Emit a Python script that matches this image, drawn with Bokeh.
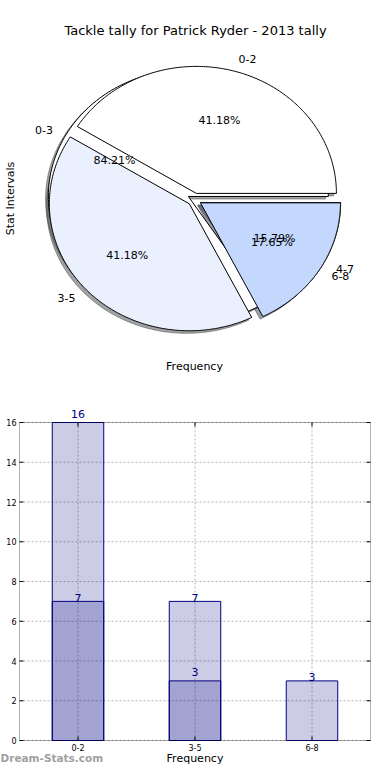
import numpy as np
from bokeh.plotting import figure
from bokeh.models import Range1d, Label, BoxAnnotation
from bokeh.layouts import column
from bokeh.embed import file_html
from bokeh.resources import INLINE

# ---------------- data ----------------
title_text = "Tackle tally for Patrick Ryder - 2013 tally"
pie_back_labels = ["0-3", "4-7"]
pie_back_values = [16, 3]
pie_front_labels = ["0-2", "3-5", "6-8"]
pie_front_values = [7, 7, 3]
bar_categories = ["0-2", "3-5", "6-8"]
bar_a_categories = ["0-2", "3-5"]
bar_a_values = [16, 3]
bar_b_categories = ["0-2", "3-5", "6-8"]
bar_b_values = [7, 7, 3]
y_ticks = [0, 2, 4, 6, 8, 10, 12, 14, 16]
y_max = 16

# ---------------- style ----------------
FONT = "DejaVu Sans"
W = 374
PIE_H = 390
BAR_H = 374
RX, RY = 140.0, 127.0        # pixel radii of the (elliptic) pie
CX, CY = 194.0, 199.0        # pixel centre of the pie (from left, from top)
EXPLODE = 0.05
SHADOW = 0.02
back_colors = ["#FFFFFF", "#EAF0FE"]
front_colors = ["#FFFFFF", "#EAF0FE", "#C4D8FE"]


def bare_figure(height, xr, yr):
    f = figure(width=W, height=height, output_backend="svg", toolbar_location=None,
               x_range=xr, y_range=yr, x_axis_location=None, y_axis_location=None,
               min_border=0, min_border_left=0, min_border_right=0,
               min_border_top=0, min_border_bottom=0, outline_line_color=None)
    f.grid.visible = False
    return f


# ================= pie =================
pie = bare_figure(PIE_H, Range1d(-CX / RX, (W - CX) / RX), Range1d(-(PIE_H - CY) / RY, CY / RY))


def make_wedges(values, colors):
    vals = np.asarray(values, dtype=float)
    frac = vals / vals.sum()
    out = []
    t1 = 0.0
    for f, c in zip(frac, colors):
        t2 = t1 + 360.0 * f
        mid = np.radians((t1 + t2) / 2.0)
        ox, oy = EXPLODE * np.cos(mid), EXPLODE * np.sin(mid)
        th = np.radians(np.linspace(t1, t2, 200))
        xs = np.concatenate([[ox], ox + np.cos(th), [ox]])
        ys = np.concatenate([[oy], oy + np.sin(th), [oy]])
        out.append(dict(xs=xs, ys=ys, ox=ox, oy=oy, mid=mid, frac=f, color=c))
        t1 = t2
    return out


def shade(hexcol):
    h = hexcol.lstrip("#")
    r, g, b = (int(h[i:i + 2], 16) for i in (0, 2, 4))
    return "#%02x%02x%02x" % (int(r * 0.3), int(g * 0.3), int(b * 0.3))


back = make_wedges(pie_back_values, back_colors)
front = make_wedges(pie_front_values, front_colors)

for w in back + front:
    pie.patch(w["xs"] - SHADOW, w["ys"] - SHADOW, fill_color=shade(w["color"]), fill_alpha=0.5,
              line_color=shade(w["color"]), line_alpha=0.5, line_width=1)
for w in back + front:
    pie.patch(w["xs"], w["ys"], fill_color=w["color"], line_color="black", line_width=1)

for wlist, labels in ((back, pie_back_labels), (front, pie_front_labels)):
    for w, lab in zip(wlist, labels):
        xt = w["ox"] + 1.1 * np.cos(w["mid"])
        yt = w["oy"] + 1.1 * np.sin(w["mid"])
        pie.text(x=[xt], y=[yt], text=[lab], text_align="left" if xt > 0 else "right",
                 text_baseline="middle", text_font_size="11px", text_font={"value": FONT},
                 text_color="black")
        xp = w["ox"] + 0.6 * np.cos(w["mid"])
        yp = w["oy"] + 0.6 * np.sin(w["mid"])
        pie.text(x=[xp], y=[yp], text=["%.2f%%" % (100 * w["frac"])], text_align="center",
                 text_baseline="middle", text_font_size="11px", text_font={"value": FONT},
                 text_color="black")

pie.add_layout(Label(x=195, y=PIE_H - 30, x_units="screen", y_units="screen", text=title_text,
                     text_align="center", text_baseline="middle", text_font=FONT,
                     text_font_size="13px", text_color="black"))
pie.add_layout(Label(x=10, y=PIE_H - 198, x_units="screen", y_units="screen", text="Stat Intervals",
                     angle=np.pi / 2, text_align="center", text_baseline="middle", text_font=FONT,
                     text_font_size="11px", text_color="black"))
pie.add_layout(Label(x=194, y=PIE_H - 366, x_units="screen", y_units="screen", text="Frequency",
                     text_align="center", text_baseline="middle", text_font=FONT,
                     text_font_size="11px", text_color="black"))

# ================= bar chart =================
AX_L, AX_R, AX_T, AX_B = 19.0, 370.0, 32.0, 350.0   # axes box in figure pixels
n_cat = len(bar_categories)
ppx = (AX_R - AX_L) / n_cat
ppy = (AX_B - AX_T) / y_max
x0, x1 = -0.5, n_cat - 0.5
bar = bare_figure(BAR_H, Range1d(x0 - AX_L / ppx, x1 + (W - AX_R) / ppx),
                  Range1d(-(BAR_H - AX_B) / ppy, y_max + AX_T / ppy))

idx = {c: i for i, c in enumerate(bar_categories)}
xs_cat = [idx[c] for c in bar_categories]
xs_a = [idx[c] for c in bar_a_categories]
xs_b = [idx[c] for c in bar_b_categories]

# grid
GRID = dict(line_color="#b4b4b4", line_dash="2 2", line_width=1)
bar.segment(x0=[x0] * len(y_ticks), y0=y_ticks, x1=[x1] * len(y_ticks), y1=y_ticks, **GRID)
bar.segment(x0=xs_cat, y0=[0] * n_cat, x1=xs_cat, y1=[y_max] * n_cat, **GRID)

# bars
BW = 0.44
bar.vbar(x=xs_a, top=bar_a_values, width=BW, fill_color="navy", fill_alpha=0.2,
         line_color="navy", line_width=1)
bar.vbar(x=xs_b, top=bar_b_values, width=BW, fill_color="navy", fill_alpha=0.2,
         line_color="navy", line_width=1)

# value labels
bar.text(x=xs_a, y=[v + 8.5 / ppy for v in bar_a_values], text=[str(v) for v in bar_a_values],
         text_align="center", text_baseline="alphabetic", text_font_size="11px",
         text_font={"value": FONT}, text_color="navy")
bar.text(x=xs_b, y=[v + 3.5 / ppy for v in bar_b_values], text=[str(v) for v in bar_b_values],
         text_align="center", text_baseline="alphabetic", text_font_size="11px",
         text_font={"value": FONT}, text_color="navy")

# ticks (inward)
TK = 4.0
TICK = dict(line_color="black", line_width=1)
bar.segment(x0=[x0] * len(y_ticks), y0=y_ticks, x1=[x0 + TK / ppx] * len(y_ticks), y1=y_ticks, **TICK)
bar.segment(x0=[x1] * len(y_ticks), y0=y_ticks, x1=[x1 - TK / ppx] * len(y_ticks), y1=y_ticks, **TICK)
bar.segment(x0=xs_cat, y0=[0] * n_cat, x1=xs_cat, y1=[TK / ppy] * n_cat, **TICK)
bar.segment(x0=xs_cat, y0=[y_max] * n_cat, x1=xs_cat, y1=[y_max - TK / ppy] * n_cat, **TICK)

# axes box
bar.add_layout(BoxAnnotation(left=x0, right=x1, bottom=0, top=y_max, fill_color=None,
                             fill_alpha=0, line_color="black", line_width=1))

# tick labels
bar.text(x=[x0 - 3.0 / ppx] * len(y_ticks), y=y_ticks, text=[str(t) for t in y_ticks],
         text_align="right", text_baseline="middle", text_font_size="8px",
         text_font={"value": FONT}, text_color="black")
bar.text(x=xs_cat, y=[-7.0 / ppy] * n_cat, text=bar_categories,
         text_align="center", text_baseline="middle", text_font_size="8px",
         text_font={"value": FONT}, text_color="black")

# axis label and watermark
bar.text(x=[(x0 + x1) / 2], y=[-18.0 / ppy], text=["Frequency"], text_align="center",
         text_baseline="middle", text_font_size="11px", text_font={"value": FONT},
         text_color="black")
bar.text(x=[x0 - AX_L / ppx], y=[-(BAR_H - AX_B - 1) / ppy], text=["Dream-Stats.com"],
         text_align="left", text_baseline="bottom", text_font_size="10.5px",
         text_font={"value": FONT}, text_font_style="bold", text_color="#a0a0a0")

layout = column(pie, bar)
open("out.html", "w").write(file_html(layout, INLINE))
